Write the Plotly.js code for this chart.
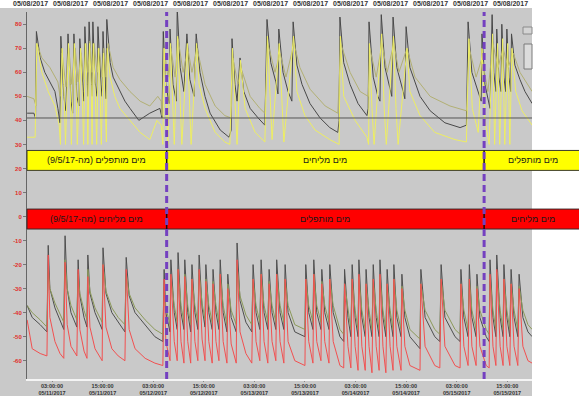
<!DOCTYPE html>
<html><head><meta charset="utf-8">
<script src="https://cdn.plot.ly/plotly-3.0.1.min.js"></script>
<style>html,body{margin:0;padding:0;background:#fff;overflow:hidden}#chart{width:579px;height:396px}</style>
</head><body><div id="chart"></div>
<script>
// ---- data (hours after 2017-05-11 03:00) ----
const topDarkT = [-5.9,-4.3,-3.9,-3.7,-2.8,-1.7,-0.5,0.7,1.4,1.9,2.1,2.8,3.3,3.8,4.5,4.9,5.2,5.9,6.4,6.6,7.4,7.6,7.8,8.3,8.5,8.8,9.3,9.5,9.7,10.2,10.7,10.9,11.6,11.9,12.1,12.6,12.8,13.0,13.8,14.5,16.1,17.3,18.5,19.7,20.6,23.2,25.6,26.1,26.4,27.0,27.8,28.0,28.7,29.5,29.7,30.4,31.3,32.0,32.7,33.7,34.2,35.1,36.3,37.5,39.9,42.0,42.5,42.7,43.4,43.9,44.6,45.5,47.0,48.9,50.5,51.0,51.9,53.1,53.6,53.8,54.8,56.0,56.9,57.2,58.1,59.3,61.2,63.6,65.9,67.8,68.1,68.3,69.2,70.7,72.6,74.7,75.0,75.2,76.2,77.3,77.8,78.1,79.0,80.2,80.6,80.9,81.8,83.3,83.7,84.0,84.9,87.3,89.7,93.2,96.8,98.3,98.7,99.6,101.0,101.8,102.0,102.7,103.9,104.4,104.8,105.3,105.5,106.0,106.5,106.7,107.2,107.6,107.9,108.4,108.8,109.0,109.8,111.0,112.2,113.4,113.9];
const topDarkV = [43,43,41,77,66,60,56,52,45,39,75,50,44,76,48,43,76,50,46,74,52,48,79,55,50,81,56,50,81,56,50,79,55,50,77,55,49,82,64,58,52,48,45,42,40,43,45,41,77,55,47,78,55,48,87,62,52,76,57,50,76,60,50,43,36,33,36,74,55,48,66,52,45,41,38,82,64,56,51,78,60,52,48,81,63,55,47,41,37,35,40,83,64,55,47,42,45,81,58,50,48,84,62,53,50,83,62,52,49,79,62,50,44,39,37,38,81,60,52,48,76,55,45,84,60,52,78,58,52,80,58,52,78,58,52,76,63,57,52,48,47];

const topKhakiT = [-5.9,-4.3,-3.8,-3.6,-2.4,-0.5,1.4,1.9,2.4,3.3,4.0,4.7,5.5,6.2,6.9,7.6,8.1,8.5,9.0,9.5,10.0,10.7,11.2,11.9,12.3,12.8,13.3,14.5,16.1,18.5,20.9,23.2,25.1,25.9,26.1,26.6,27.5,28.2,29.2,29.9,31.1,32.2,33.2,34.4,36.3,38.7,41.0,42.5,42.9,44.1,44.8,47.0,49.3,50.5,51.2,52.9,54.1,55.5,57.4,58.8,61.2,64.8,67.8,68.5,70.7,73.1,75.0,75.4,76.9,78.3,79.5,81.1,82.3,84.2,86.1,89.7,94.4,98.3,99.0,100.6,102.0,103.4,104.6,105.8,107.0,108.2,109.4,111.0,113.9];
const topKhakiV = [50,49,46,72,66,62,56,50,68,54,70,55,70,56,68,57,72,60,73,60,72,60,70,58,70,58,72,62,57,52,48,46,50,48,42,70,58,70,58,74,60,70,60,70,55,46,42,41,66,55,62,50,45,43,72,60,68,58,72,62,53,46,43,72,60,52,50,70,58,72,60,72,60,70,58,50,46,44,70,58,66,52,72,62,70,62,68,60,52];

const topYellowT = [-5.9,-4.0,-3.6,-2.4,-0.9,0.7,1.7,2.0,2.4,2.8,3.2,3.9,4.3,4.6,5.3,5.7,6.0,6.8,7.1,7.5,7.9,8.3,8.5,8.9,9.3,9.5,9.8,10.2,10.6,11.0,11.4,11.7,12.2,12.6,12.9,13.1,13.8,14.9,16.1,18.5,20.9,23.2,24.9,25.9,26.3,26.6,27.0,27.5,28.1,28.5,29.0,29.8,30.4,30.8,32.1,32.5,33.0,34.3,34.9,36.3,38.7,41.0,42.2,42.8,43.4,43.9,44.7,45.8,48.2,50.5,51.1,51.7,52.2,53.9,54.5,55.0,57.3,58.1,60.0,62.4,65.9,68.1,68.4,69.2,71.9,74.7,75.1,75.3,75.9,76.4,78.2,78.8,79.3,81.0,81.6,82.1,84.2,84.9,87.3,90.8,95.6,98.3,98.9,99.7,101.1,102.0,102.7,103.7,104.5,105.0,105.7,106.2,106.9,107.4,108.1,108.6,109.1,110.0,111.5,113.9];
const topYellowV = [33,33,72,60,52,46,38,30,70,55,30,72,55,30,72,55,30,70,55,30,72,55,30,72,55,30,72,55,30,70,55,30,68,50,31,70,58,50,45,40,35,32,40,38,30,70,50,30,72,50,30,75,50,30,72,50,30,72,55,45,35,31,30,70,45,30,65,45,35,31,75,50,32,72,48,31,75,52,42,36,32,30,75,50,40,33,30,72,45,30,76,45,30,75,45,30,70,52,42,35,32,31,74,45,35,70,40,30,76,30,72,30,74,30,72,30,70,52,44,38];

const botT = [-5.9,-4.7,-2.8,-1.2,-0.9,-0.5,0.7,1.9,2.8,3.1,3.6,4.5,5.9,6.2,6.6,7.6,8.3,8.5,9.0,10.2,11.9,12.1,12.8,14.2,15.7,17.3,17.6,18.3,19.7,22.1,24.4,26.3,26.6,27.0,28.0,28.2,29.0,29.7,29.9,30.6,31.3,31.5,32.2,32.9,33.2,33.9,34.6,34.9,35.6,36.3,36.5,37.2,38.0,38.2,38.9,39.6,39.9,40.6,41.5,41.7,42.5,43.7,43.9,44.6,46.0,47.4,47.7,48.4,49.3,49.6,50.3,51.2,51.5,52.2,53.1,53.3,54.1,55.0,55.3,56.0,57.6,60.0,60.2,60.9,61.9,62.1,62.8,63.8,64.0,64.7,65.7,65.9,66.7,68.3,69.2,69.4,70.2,70.9,71.2,71.9,72.6,72.8,73.5,74.3,74.5,75.2,75.9,76.2,76.9,77.6,77.8,78.5,79.2,79.5,80.2,80.9,81.1,81.8,82.8,83.0,83.7,84.9,87.3,87.5,88.5,90.8,92.0,92.3,93.2,95.6,96.8,97.0,97.7,98.7,99.0,99.6,100.6,100.8,101.5,103.0,103.7,103.9,104.6,105.3,105.5,106.3,107.0,107.2,107.9,108.6,108.9,109.6,110.5,110.8,111.7,112.9,113.9];
const botDark = [-37,-42,-45,-48,-12,-30,-38,-43,-47,-8,-30,-40,-46,-18,-33,-42,-46,-16,-32,-40,-47,-13,-32,-40,-44,-48,-17,-33,-40,-45,-50,-52,-22,-40,-48,-18,-40,-47,-15,-40,-47,-18,-40,-48,-20,-40,-47,-16,-38,-46,-20,-40,-47,-22,-40,-47,-18,-40,-48,-24,-42,-48,-11,-35,-44,-48,-20,-40,-47,-18,-40,-47,-22,-40,-47,-18,-40,-47,-20,-40,-48,-50,-20,-40,-47,-18,-40,-47,-22,-40,-47,-20,-40,-50,-52,-22,-42,-50,-20,-42,-50,-18,-42,-50,-22,-42,-50,-20,-42,-50,-18,-42,-50,-22,-42,-50,-20,-42,-50,-24,-42,-50,-55,-22,-42,-50,-52,-20,-42,-50,-52,-22,-42,-50,-20,-42,-50,-24,-42,-50,-52,-18,-42,-50,-16,-42,-50,-20,-42,-50,-22,-42,-50,-24,-42,-48,-50];
const botOlive = [-37,-40,-43,-46,-22,-30,-36,-41,-44,-18,-30,-37,-43,-24,-32,-39,-43,-22,-31,-38,-44,-20,-31,-38,-42,-45,-24,-32,-38,-43,-47,-49,-28,-38,-45,-25,-37,-44,-22,-37,-44,-24,-37,-45,-26,-37,-44,-23,-36,-43,-26,-37,-44,-27,-37,-44,-24,-37,-45,-28,-39,-45,-20,-33,-41,-45,-26,-37,-44,-24,-37,-44,-27,-37,-44,-24,-37,-44,-26,-37,-45,-47,-26,-37,-44,-24,-37,-44,-27,-37,-44,-26,-37,-47,-49,-28,-39,-47,-26,-39,-47,-25,-39,-47,-28,-39,-47,-26,-39,-47,-25,-39,-47,-28,-39,-47,-26,-39,-47,-29,-39,-47,-51,-28,-39,-47,-49,-26,-39,-47,-49,-28,-39,-47,-26,-39,-47,-29,-39,-47,-49,-25,-39,-47,-23,-39,-47,-26,-39,-47,-28,-39,-47,-29,-39,-45,-47];
const botRed = [-43,-55,-57,-58,-16,-42,-52,-57,-59,-19,-45,-54,-58,-22,-47,-56,-59,-25,-46,-55,-60,-20,-46,-55,-58,-60,-22,-47,-55,-59,-61,-62,-26,-52,-60,-24,-52,-60,-22,-52,-61,-25,-52,-61,-26,-52,-60,-22,-51,-60,-27,-52,-61,-28,-52,-60,-24,-52,-61,-30,-53,-61,-18,-48,-57,-61,-26,-52,-60,-24,-52,-61,-28,-52,-60,-24,-52,-61,-26,-52,-60,-62,-26,-52,-61,-24,-52,-60,-28,-52,-61,-26,-52,-62,-63,-28,-54,-63,-26,-54,-64,-24,-54,-64,-28,-54,-65,-26,-54,-64,-24,-54,-65,-28,-54,-64,-26,-54,-64,-30,-54,-62,-64,-28,-54,-62,-63,-26,-54,-62,-63,-28,-54,-62,-26,-54,-62,-30,-54,-62,-63,-24,-54,-62,-22,-54,-62,-26,-54,-62,-28,-54,-62,-30,-54,-60,-61];

const refLine = 41;
const switchHours = [27.2, 102.5];
const yTickVals = [-60,-50,-40,-30,-20,-10,0,10,20,30,40,50,60,70,80];
const yTickText = ['-60','-50','-40','-30','-20','-10','0','10','20','30','40','50','60','70','80'];
const topBand = [19.2, 27.5];
const botBand = [-5.2, 3.1];
const topBandLabels = ['מים מותפלים (מה-9/5/17)', 'מים מליחים', 'מים מותפלים'];
const botBandLabels = ['מים מליחים (מה-9/5/17)', 'מים מותפלים', 'מים מליחים'];
const stripDates = ['05/08/2017','05/08/2017','05/08/2017','05/08/2017','05/08/2017','05/08/2017','05/08/2017','05/08/2017','05/08/2017','05/08/2017','05/08/2017','05/08/2017','05/08/2017'];

// ---- rendering ----
const T0 = Date.UTC(2017, 4, 11, 3, 0, 0);
const HR = 3600000;
const toX = a => a.map(h => T0 + h * HR);
const W = 579, H = 396, L = 27, R = 47, T = 12, B = 17;
const PW = W - L - R, PH = H - T - B;
const pxX = p => (p - L) / PW;
const pxY = p => (H - B - p) / PH;
const rtl = s => '\u202B' + s + '\u202C';

function line(x, y, color, w) {
  return {type: 'scatter', mode: 'lines', x: toX(x), y: y, line: {color: color, width: w || 1},
          hoverinfo: 'skip', showlegend: false};
}
const traces = [
  line(botT, botDark, '#4e4e4e'),
  line(botT, botOlive, '#8c9a5a'),
  line(botT, botRed, '#f25050'),
  line(topDarkT, topDarkV, '#484848'),
  line(topKhakiT, topKhakiV, '#b2b074'),
  line(topYellowT, topYellowV, '#eeee62'),
];

const shapes = [
  {type: 'rect', xref: 'paper', yref: 'paper', x0: 1, x1: pxX(W) + 0.02, y0: pxY(H) - 0.02, y1: pxY(8), fillcolor: '#ffffff', line: {width: 0}, layer: 'below'},
  {type: 'rect', xref: 'paper', yref: 'paper', x0: pxX(0) - 0.02, x1: pxX(W) + 0.02, y0: pxY(8), y1: pxY(0) + 0.02, fillcolor: '#ffffff', line: {width: 0}, layer: 'below'},
  {type: 'line', xref: 'paper', yref: 'y', x0: 0, x1: 1, y0: refLine, y1: refLine, line: {color: '#555555', width: 1}, layer: 'above'},
  {type: 'rect', xref: 'paper', yref: 'y', x0: 0, x1: pxX(W) + 0.01, y0: topBand[0], y1: topBand[1], fillcolor: '#ffff00', line: {color: '#3a3a2a', width: 1}, layer: 'above'},
  {type: 'rect', xref: 'paper', yref: 'y', x0: 0, x1: pxX(W) + 0.01, y0: botBand[0], y1: botBand[1], fillcolor: '#ff0000', line: {color: '#3a2a2a', width: 1}, layer: 'above'},
  {type: 'rect', xref: 'paper', yref: 'paper', x0: pxX(523), x1: pxX(532), y0: pxY(34), y1: pxY(27), fillcolor: '#d4d4d4', line: {color: '#8a8a8a', width: 1}, layer: 'above'},
  {type: 'rect', xref: 'paper', yref: 'paper', x0: pxX(524), x1: pxX(532), y0: pxY(69), y1: pxY(44), fillcolor: '#dcdcdc', line: {color: '#7a7a7a', width: 1}, layer: 'above'},
];
switchHours.forEach(h => {
  const xv = T0 + h * HR;
  shapes.push({type: 'line', xref: 'x', yref: 'y', x0: xv, x1: xv, y0: topBand[0], y1: topBand[1], line: {color: '#111', width: 1.5}, layer: 'above'});
  shapes.push({type: 'line', xref: 'x', yref: 'y', x0: xv, x1: xv, y0: botBand[0], y1: botBand[1], line: {color: '#111', width: 1.5}, layer: 'above'});
  shapes.push({type: 'line', xref: 'x', yref: 'paper', x0: xv, x1: xv, y0: 0, y1: 1, line: {color: '#7440c0', width: 3, dash: '7px,4px'}, layer: 'above'});
});

const annotations = [];
const labelX = [pxX(96.5), pxX(325), pxX(533)];
const bandFont = {family: 'Liberation Sans, Arial, DejaVu Sans', size: 9, color: '#1a1a1a'};
topBandLabels.forEach((s, i) => annotations.push({xref: 'paper', yref: 'y', x: labelX[i], y: (topBand[0] + topBand[1]) / 2, text: rtl(s), showarrow: false, font: bandFont, xanchor: 'center', yanchor: 'middle'}));
botBandLabels.forEach((s, i) => annotations.push({xref: 'paper', yref: 'y', x: labelX[i], y: (botBand[0] + botBand[1]) / 2, text: rtl(s), showarrow: false, font: bandFont, xanchor: 'center', yanchor: 'middle'}));
stripDates.forEach((s, i) => annotations.push({xref: 'paper', yref: 'paper', x: pxX(30 + 40 * i), y: pxY(4), text: s, showarrow: false,
  font: {family: 'Liberation Sans, Arial', size: 7, color: '#333', weight: 'bold'}, xanchor: 'center', yanchor: 'middle'}));

const layout = {
  width: W, height: H,
  margin: {l: L, r: R, t: T, b: B, pad: 0},
  paper_bgcolor: '#c9c9c9', plot_bgcolor: '#c9c9c9',
  showlegend: false,
  xaxis: {
    type: 'date', range: [T0 - 5.93 * HR, T0 + 113.86 * HR],
    tick0: T0, dtick: 12 * HR, tickformat: '%H:%M:%S<br>%m/%d/%Y',
    tickfont: {family: 'Liberation Sans, Arial', size: 5.5, color: '#333', weight: 'bold'},
    showgrid: false, zeroline: false, showline: true, linecolor: '#f4f4f4', linewidth: 1.5,
    ticks: 'outside', ticklen: 1, tickcolor: '#888', fixedrange: true
  },
  yaxis: {
    range: [-67.6, 85.1], tickmode: 'array', tickvals: yTickVals, ticktext: yTickText,
    tickfont: {family: 'Liberation Sans, Arial', size: 6, color: '#e0302a', weight: 'bold'},
    showgrid: false, zeroline: false, showline: true, linecolor: '#666', linewidth: 1,
    ticks: 'outside', ticklen: 3, tickcolor: '#777', fixedrange: true
  },
  shapes: shapes, annotations: annotations
};
Plotly.newPlot('chart', traces, layout, {staticPlot: true, displayModeBar: false});
</script></body></html>
